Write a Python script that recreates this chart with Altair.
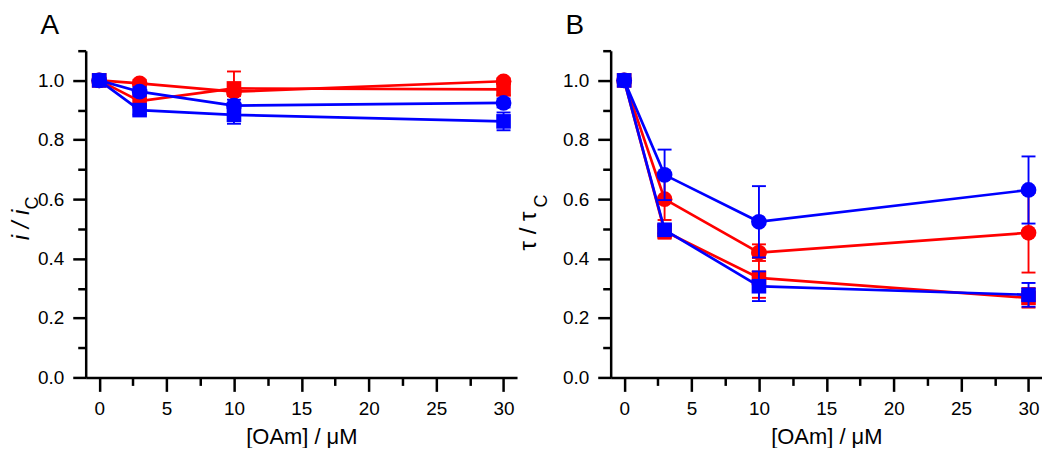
import altair as alt
import pandas as pd

# ---------------- data ----------------
conc = [0, 3, 10, 30]

# Panel A : i / iC
a_red_circle = [1.000, 0.990, 0.962, 0.997]
a_red_circle_err = [0.0, 0.012, 0.015, 0.010]
a_red_square = [1.000, 0.930, 0.973, 0.970]
a_red_square_err = [0.0, 0.010, 0.057, 0.020]
a_blue_circle = [1.000, 0.962, 0.915, 0.924]
a_blue_circle_err = [0.0, 0.015, 0.020, 0.015]
a_blue_square = [1.000, 0.900, 0.884, 0.862]
a_blue_square_err = [0.0, 0.015, 0.030, 0.030]

# Panel B : tau / tauC
b_red_circle = [1.000, 0.600, 0.420, 0.487]
b_red_circle_err = [0.0, 0.070, 0.028, 0.134]
b_red_square = [1.000, 0.492, 0.335, 0.268]
b_red_square_err = [0.0, 0.025, 0.067, 0.033]
b_blue_circle = [1.000, 0.682, 0.524, 0.631]
b_blue_circle_err = [0.0, 0.085, 0.120, 0.113]
b_blue_square = [1.000, 0.497, 0.307, 0.278]
b_blue_square_err = [0.0, 0.012, 0.050, 0.040]

colors = {"red": "#ff0000", "blue": "#0000ff"}
shape_sizes = {"circle": 250, "square": 215}

x_major = [0, 5, 10, 15, 20, 25, 30]
x_minor = [2.5, 7.5, 12.5, 17.5, 22.5, 27.5]
y_major = [0.0, 0.2, 0.4, 0.6, 0.8, 1.0]
y_minor = [0.1, 0.3, 0.5, 0.7, 0.9, 1.1]
x_domain = [-1, 31]
y_domain = [0, 1.1]

x_title = "[OAm] / μM"
panel_letters = ["A", "B"]
y_main_titles = ["i / i", "τ / τ"]
y_sub_titles = ["C", "C"]

FONT = "Liberation Sans"


def build_df(series):
    rows = []
    for name, color, shape, vals, errs in series:
        for xv, yv, ev in zip(conc, vals, errs):
            rows.append(dict(series=name, color=colors[color], shape=shape,
                             size=shape_sizes[shape], x=xv, y=yv, err=ev,
                             lo=yv - ev, hi=yv + ev, grp=color))
    return pd.DataFrame(rows)


df_a = build_df([
    ("rc", "red", "circle", a_red_circle, a_red_circle_err),
    ("rs", "red", "square", a_red_square, a_red_square_err),
    ("bc", "blue", "circle", a_blue_circle, a_blue_circle_err),
    ("bs", "blue", "square", a_blue_square, a_blue_square_err),
])
df_b = build_df([
    ("rc", "red", "circle", b_red_circle, b_red_circle_err),
    ("rs", "red", "square", b_red_square, b_red_square_err),
    ("bc", "blue", "circle", b_blue_circle, b_blue_circle_err),
    ("bs", "blue", "square", b_blue_square, b_blue_square_err),
])

xs = alt.Scale(domain=x_domain, nice=False, zero=False)
ys = alt.Scale(domain=y_domain, nice=False, zero=False)


def X(field="x:Q", axis=None):
    return alt.X(field, scale=xs, axis=axis)


def Y(field="y:Q", axis=None):
    return alt.Y(field, scale=ys, axis=axis)


def make_panel(df, letter, ymain, ysub, italic, t_main_x, t_main_y, t_sub_x, t_sub_y):
    main_x_axis = alt.Axis(values=x_major, title=x_title, orient="bottom", tickSize=14,
                           labelPadding=8, titlePadding=8, format="d", labelFlush=False,
                           labelOverlap=False)
    main_y_axis = alt.Axis(values=y_major, title=None, orient="left", tickSize=13,
                           labelPadding=9, format=".1f", labelOverlap=False)
    minor_x_axis = alt.Axis(values=x_minor, title=None, orient="bottom", tickSize=8,
                            labels=False, domain=False)
    minor_y_axis = alt.Axis(values=y_minor, title=None, orient="left", tickSize=8,
                            labels=False, domain=False)

    base = alt.Chart(df)
    minor = base.mark_point(opacity=0).encode(x=X(axis=minor_x_axis), y=Y(axis=minor_y_axis))
    main = base.mark_point(opacity=0).encode(x=X(axis=main_x_axis), y=Y(axis=main_y_axis))

    layers = [minor, main]
    for grp in ["red", "blue"]:
        d = df[df.grp == grp]
        de = d[d.err > 0]
        col = alt.Color("color:N", scale=None)
        bars = alt.Chart(de).mark_rule(strokeWidth=1.9).encode(
            x=X(), y=Y("lo:Q"), y2="hi:Q", color=col)
        cap_hi = alt.Chart(de).mark_rule(strokeWidth=1.9, xOffset=-7, x2Offset=7).encode(
            x=X(), x2="x:Q", y=Y("hi:Q"), color=col)
        cap_lo = alt.Chart(de).mark_rule(strokeWidth=1.9, xOffset=-7, x2Offset=7).encode(
            x=X(), x2="x:Q", y=Y("lo:Q"), color=col)
        line = alt.Chart(d).mark_line(strokeWidth=2.7).encode(
            x=X(), y=Y(), detail="series:N", color=col, order="x:Q")
        pts = alt.Chart(d).mark_point(filled=True, opacity=1, strokeWidth=0).encode(
            x=X(), y=Y(), color=col,
            shape=alt.Shape("shape:N", scale=None),
            size=alt.Size("size:Q", scale=None))
        layers += [bars, cap_hi, cap_lo, line, pts]

    t_letter = alt.Chart(pd.DataFrame({"t": [letter]})).mark_text(
        font=FONT, fontSize=28, align="center", baseline="alphabetic", color="black"
    ).encode(text="t:N", x=alt.value(-36), y=alt.value(-17))
    t_main = alt.Chart(pd.DataFrame({"t": [ymain]})).mark_text(
        font=FONT, fontSize=24, align="center", baseline="middle", angle=270,
        fontStyle="italic" if italic else "normal", color="black"
    ).encode(text="t:N", x=alt.value(t_main_x), y=alt.value(t_main_y))
    t_sub = alt.Chart(pd.DataFrame({"t": [ysub]})).mark_text(
        font=FONT, fontSize=18, align="center", baseline="middle", angle=270, color="black"
    ).encode(text="t:N", x=alt.value(t_sub_x), y=alt.value(t_sub_y))
    layers += [t_letter, t_main, t_sub]

    return alt.layer(*layers).resolve_axis(x="independent", y="independent").properties(
        width=433, height=328)


panel_a = make_panel(df_a, panel_letters[0], y_main_titles[0], y_sub_titles[0], True,
                     -64, 175, -53, 153)
panel_b = make_panel(df_b, panel_letters[1], y_main_titles[1], y_sub_titles[1], False,
                     -82, 181, -69, 151)

chart = alt.hconcat(panel_a, panel_b, spacing=0).properties(
    padding={"left": 2, "top": 3, "right": 0, "bottom": 0}
).configure_view(
    stroke=None
).configure_axis(
    domainColor="black", domainWidth=2.5, tickColor="black", tickWidth=2.5,
    labelFont=FONT, labelFontSize=19, labelColor="black",
    titleFont=FONT, titleFontSize=22, titleFontWeight="normal", titleColor="black",
    grid=False
)

chart.save("out.html", embed_options={"renderer": "svg", "actions": False})
